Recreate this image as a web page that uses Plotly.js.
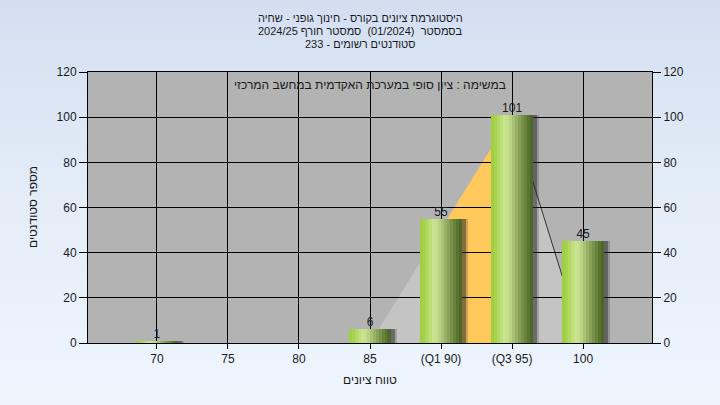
<!DOCTYPE html>
<html><head><meta charset="utf-8">
<script src="https://cdn.plot.ly/plotly-3.0.1.min.js"></script>
<style>
html,body{margin:0;padding:0;}
body{width:720px;height:405px;overflow:hidden;background:linear-gradient(to bottom,#d3dff1 0%,#e4edf8 50%,#eef5fd 100%);}
#chart{width:720px;height:405px;}
</style>
</head><body><div id="chart"></div>
<script>
// ---- data ----
const titleLines = ['היסטוגרמת ציונים בקורס - חינוך גופני - שחיה', 'בסמסטר  (01/2024)  סמסטר חורף 2024/25', 'סטודנטים רשומים - 233'];
const noteText = 'במשימה : ציון סופי במערכת האקדמית במחשב המרכזי';
const categories = ['70', '75', '80', '85', '(Q1 90)', '(Q3 95)', '100'];
const counts = [1, 0, 0, 6, 55, 101, 45];
const curveCats = ['85', '(Q3 95)', '100'];
const curveVals = [0, 101, 0];
const quartileCats = ['(Q1 90)', '(Q3 95)'];
const xTitle = 'טווח ציונים';
const yTitle = 'מספר סטודנטים';
const yTicks = [0, 20, 40, 60, 80, 100, 120];

// ---- styles ----
const FONT = 'Liberation Sans, DejaVu Sans, Arial, sans-serif';
const TXT = '#1a1a1a';
const sliceColors = ['#a0cf40','#a8d350','#b3d965','#bfdf7b','#c9e48e','#c6df8c','#b9d283','#a9c274','#98b166','#88a158','#78924a','#68833c','#597430','#4c6726'];
const BAR_W = 0.6;

const traces = [];
// shadows
traces.push({type:'bar', x:categories, y:counts, width:BAR_W, offset:-BAR_W/2+0.085,
  marker:{color:'rgba(40,40,40,0.22)', line:{width:0}}, hoverinfo:'skip', showlegend:false});
traces.push({type:'bar', x:categories, y:counts, width:BAR_W, offset:-BAR_W/2+0.05,
  marker:{color:'rgba(40,40,40,0.45)', line:{width:0}}, hoverinfo:'skip', showlegend:false});
// cylinder bars built from overlapping slices (each runs to the bar's right edge)
const sw = BAR_W / sliceColors.length;
sliceColors.forEach((c, i) => {
  traces.push({type:'bar', x:categories, y:counts, width:BAR_W - i*sw, offset:-BAR_W/2 + i*sw,
    marker:{color:c, line:{width:0}}, hoverinfo:'skip', showlegend:false});
});
// value labels
const lx = [], ly = [], lt = [];
counts.forEach((v, i) => { if (v > 0) { lx.push(categories[i]); ly.push(v); lt.push(String(v)); } });
traces.push({type:'scatter', mode:'text', x:lx, y:ly, text:lt, textposition:'top center',
  textfont:{family:FONT, size:12, color:TXT}, hoverinfo:'skip', showlegend:false, cliponaxis:false});
// dummy trace for right axis
traces.push({type:'scatter', x:[categories[0]], y:[0], yaxis:'y2', mode:'markers', marker:{opacity:0}, hoverinfo:'skip', showlegend:false});

// ---- distribution outline shapes (from data, via category indices) ----
const ci = curveCats.map(c => categories.indexOf(c));
function curveAt(x) {
  for (let k = 0; k < ci.length - 1; k++) {
    if (x >= ci[k] && x <= ci[k+1]) {
      const t = (x - ci[k]) / (ci[k+1] - ci[k]);
      return curveVals[k] + t * (curveVals[k+1] - curveVals[k]);
    }
  }
  return 0;
}
let curvePath = 'M ' + ci[0] + ',' + curveVals[0];
for (let k = 1; k < ci.length; k++) curvePath += ' L ' + ci[k] + ',' + curveVals[k];
curvePath += ' Z';
const q1 = categories.indexOf(quartileCats[0]), q3 = categories.indexOf(quartileCats[1]);
let qPath = 'M ' + q1 + ',0 L ' + q1 + ',' + curveAt(q1);
ci.forEach((x, k) => { if (x > q1 && x < q3) qPath += ' L ' + x + ',' + curveVals[k]; });
qPath += ' L ' + q3 + ',' + curveAt(q3) + ' L ' + q3 + ',0 Z';
const peakK = curveVals.indexOf(Math.max(...curveVals));

const shapes = [
  {type:'path', path:curvePath, xref:'x', yref:'y', fillcolor:'#c4c4c4', line:{width:0}, layer:'below'},
  {type:'path', path:qPath, xref:'x', yref:'y', fillcolor:'#fec95a', line:{width:0}, layer:'below'},
  {type:'line', xref:'x', yref:'y', x0:ci[peakK], y0:curveVals[peakK], x1:ci[ci.length-1], y1:curveVals[ci.length-1],
   line:{color:'#333333', width:1}, layer:'below'}
];

const annotations = [];
[10, 23, 36].forEach((yp, i) => {
  annotations.push({text:titleLines[i], xref:'paper', yref:'paper', x:(360-88)/564, y:1 + (72-yp)/271,
    xanchor:'center', yanchor:'top', showarrow:false, font:{family:FONT, size:11, color:TXT}});
});
annotations.push({text:noteText, xref:'paper', yref:'paper', x:0.5, y:1 - (85-72)/271, xanchor:'center', yanchor:'middle',
  showarrow:false, font:{family:FONT, size:12, color:TXT}});
annotations.push({text:yTitle, xref:'paper', yref:'paper', x:(33-88)/564, y:(343-207)/271, xanchor:'center', yanchor:'middle',
  textangle:-90, showarrow:false, font:{family:FONT, size:12, color:TXT}});

const axisFont = {family:FONT, size:12, color:TXT};
const layout = {
  width:720, height:405,
  margin:{l:88, r:68, t:72, b:62},
  paper_bgcolor:'rgba(0,0,0,0)', plot_bgcolor:'#b3b3b3',
  barmode:'overlay', bargap:0,
  showlegend:false,
  font:{family:FONT, color:TXT},
  xaxis:{type:'category', categoryorder:'array', categoryarray:categories, range:[-0.97, 6.97],
    showgrid:true, gridcolor:'#000', gridwidth:1, showline:true, linecolor:'#000', linewidth:1, mirror:true,
    ticks:'outside', ticklen:5, tickcolor:'#000', tickfont:axisFont, fixedrange:true,
    title:{text:xTitle, font:{family:FONT, size:12, color:TXT}, standoff:10}},
  yaxis:{range:[0,120], tickvals:yTicks, showgrid:true, gridcolor:'#000', gridwidth:1, zeroline:false,
    showline:true, linecolor:'#000', linewidth:1, ticks:'outside', ticklen:8, tickcolor:'#000', tickfont:axisFont},
  yaxis2:{range:[0,120], tickvals:yTicks, overlaying:'y', side:'right', showgrid:false, zeroline:false,
    showline:true, linecolor:'#000', linewidth:1, ticks:'outside', ticklen:8, tickcolor:'#000', tickfont:axisFont},
  shapes:shapes,
  annotations:annotations
};
Plotly.newPlot('chart', traces, layout, {staticPlot:true, displayModeBar:false});
</script>
</body></html>
